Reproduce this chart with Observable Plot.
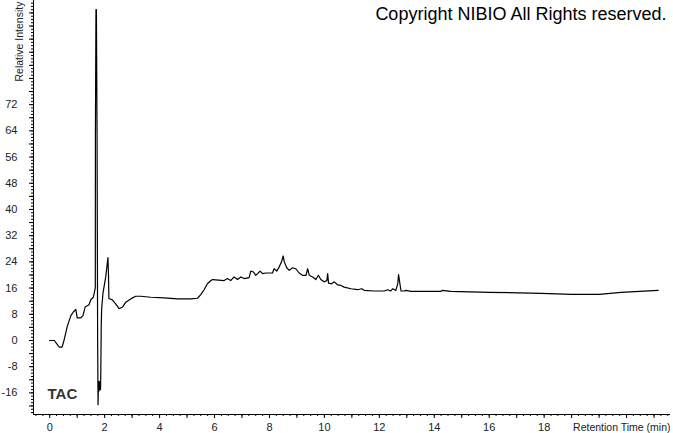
<!DOCTYPE html>
<html>
<head>
<meta charset="utf-8">
<script src="https://cdn.jsdelivr.net/npm/d3@7"></script>
<script src="https://cdn.jsdelivr.net/npm/@observablehq/plot@0.6"></script>
<style>
  html, body { margin: 0; padding: 0; background: #fff; }
  #chart { width: 673px; height: 433px; overflow: hidden; }
</style>
</head>
<body>
<div id="chart"></div>
<script>
// Retention time (min)
const times = [
  0, 0.17, 0.3, 0.35, 0.45, 0.52, 0.64, 0.77, 0.86, 0.95, 1.0, 1.13, 1.21, 1.29, 1.43, 1.5, 1.59, 1.64,
  1.66, 1.664, 1.684, 1.70, 1.724, 1.745, 1.76, 1.775, 1.79, 1.805, 1.82, 1.835, 1.85, 1.86, 1.875, 1.89,
  1.92, 1.94, 1.97, 2.04, 2.08, 2.12, 2.14, 2.155, 2.28, 2.4, 2.53, 2.65, 2.77, 2.95, 3.13, 3.32, 3.68,
  4.16, 4.65, 5.14, 5.38, 5.5, 5.62, 5.74, 5.87, 5.93, 6.35, 6.47, 6.59, 6.71, 6.84, 6.96, 7.08, 7.26,
  7.32, 7.42, 7.5, 7.57, 7.66, 7.75, 7.87, 8.11, 8.17, 8.27, 8.35, 8.44, 8.5, 8.54, 8.63, 8.72, 8.84,
  8.96, 9.08, 9.2, 9.33, 9.39, 9.45, 9.57, 9.69, 9.78, 9.87, 9.99, 10.09, 10.12, 10.15, 10.26, 10.36,
  10.48, 10.6, 10.72, 10.97, 11.21, 11.36, 11.45, 11.81, 12.18, 12.3, 12.42, 12.48, 12.6, 12.67, 12.7,
  12.75, 12.79, 12.91, 12.97, 13.15, 14.24, 14.3, 14.6, 16, 17.9, 19, 20, 20.8, 22.15
];
// Relative intensity
const intensity = [
  0, 0, -1.5, -2, -2, 0, 4.3, 7.6, 8.7, 9.5, 6.9, 6.9, 7.6, 10.2, 10.9, 12.5, 13.2, 15.3,
  16, 62, 101, 101, 62, 0, -19.6, -12.5, -15.5, -12.5, -15, -13, -15, -10, 4, 9.5,
  12.5, 14.5, 16, 19.4, 22.4, 25.3, 20, 12.8, 12.4, 11.2, 9.7, 10.2, 11.7, 12.7, 13.5, 13.5, 13.2,
  13, 12.7, 12.7, 12.9, 14.0, 15.5, 17.3, 18.3, 18.6, 18.3, 18.9, 18.3, 19.4, 18.6, 19.4, 18.9, 19.2,
  21.2, 20.9, 19.9, 20.4, 21.2, 20.4, 20.6, 20.6, 21.9, 21.2, 22.4, 24, 25.8, 24, 22.2, 21.4, 22.2,
  21.9, 20.6, 19.9, 19.9, 21.9, 19.9, 19.4, 18.6, 19.9, 18.6, 17.9, 18.3, 20.4, 17.5, 17.3, 17.9,
  17, 16.8, 16.3, 15.8, 15.5, 15.8, 15.3, 15.1, 15.1, 15.5, 15.1, 15.8, 15.3, 17.3, 20.1,
  17.3, 15.1, 15.1, 15.3, 15, 15, 15.3, 15, 14.7, 14.4, 14.1, 14.1, 14.7, 15.3
];

const xTickLabels = [0, 2, 4, 6, 8, 10, 12, 14, 16, 18];
const yTickLabels = [-16, -8, 0, 8, 16, 24, 32, 40, 48, 56, 64, 72];

const xDomain = [-0.59, 22.6];
const yDomain = [-22.6, 103.8];
const xMinor = d3.range(-0.5, 22.6, 0.25);
const xMajor = d3.range(0, 22.6, 1);
const yMinor = d3.range(-22, 103.8, 1);
const yMajor = d3.range(-20, 103.8, 4);

const data = times.map((t, i) => ({t, v: intensity[i]}));
const fmt = d => String(d);

const chart = Plot.plot({
  width: 673,
  height: 433,
  marginTop: 0,
  marginLeft: 33,
  marginRight: 3,
  marginBottom: 19,
  style: {fontFamily: "'Liberation Sans', Arial, sans-serif", fontSize: "11px", background: "#fff", color: "#000"},
  x: {domain: xDomain},
  y: {domain: yDomain},
  marks: [
    Plot.axisX(xMinor, {tickSize: 2, text: null, label: null}),
    Plot.axisX(xMajor, {tickSize: 4, text: null, label: null}),
    Plot.axisX(xTickLabels, {tickSize: 0, tickPadding: 8.5, label: null, fontSize: 11, color: "#222", tickFormat: fmt}),
    Plot.axisY(yMinor, {tickSize: 2, text: null, label: null}),
    Plot.axisY(yMajor, {tickSize: 4, text: null, label: null}),
    Plot.axisY(yTickLabels, {tickSize: 0, tickPadding: 16, label: null, fontSize: 11, color: "#222", tickFormat: fmt}),
    Plot.ruleX([xDomain[0]], {stroke: "#000"}),
    Plot.ruleY([yDomain[0]], {stroke: "#000"}),
    Plot.line(data, {x: "t", y: "v", stroke: "#000", strokeWidth: 1.2}),
    Plot.text(["Copyright NIBIO All Rights reserved."], {frameAnchor: "top-right", textAnchor: "end", lineAnchor: "bottom", dx: -4, dy: 19.3, fontSize: 18, fill: "#000"}),
    Plot.text(["TAC"], {frameAnchor: "bottom-left", textAnchor: "start", lineAnchor: "bottom", dx: 14, dy: -16, fontSize: 15, fontWeight: "bold", fontFamily: "'Liberation Sans Narrow', 'Arial Narrow', 'Liberation Sans', sans-serif", fill: "#333"}),
    Plot.text(["Retention Time (min)"], {frameAnchor: "bottom-right", textAnchor: "end", lineAnchor: "bottom", dx: 0, dy: 16.5, fontSize: 10.5, fill: "#222"}),
    Plot.text(["Relative Intensity"], {frameAnchor: "top-left", textAnchor: "start", lineAnchor: "bottom", rotate: -90, dx: -11, dy: 81, fontSize: 10.5, fill: "#222"})
  ]
});
document.getElementById("chart").appendChild(chart);
</script>
</body>
</html>
